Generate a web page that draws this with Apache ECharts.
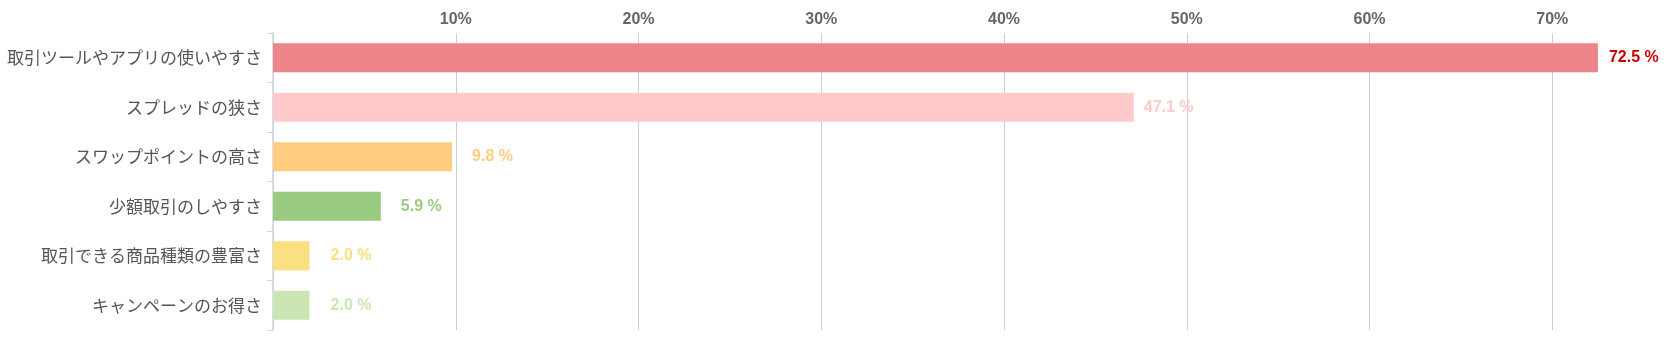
<!DOCTYPE html>
<html>
<head>
<meta charset="utf-8">
<script src="https://cdn.jsdelivr.net/npm/echarts@6/dist/echarts.min.js"></script>
<style>
html,body{margin:0;padding:0;background:#fff;}
#chart{width:1674px;height:349px;}
</style>
</head>
<body>
<div id="chart"></div>
<script>
const categories = ['取引ツールやアプリの使いやすさ','スプレッドの狭さ','スワップポイントの高さ','少額取引のしやすさ','取引できる商品種類の豊富さ','キャンペーンのお得さ'];
const values = [72.5, 47.1, 9.8, 5.9, 2.0, 2.0];
const barColors = ['#EE858B','#FFCACA','#FFCC80','#99CC80','#FAE080','#CCE6B3'];
const labelColors = ['#CC0000','#FFCACA','#FFCC80','#99CC80','#FAE080','#CCE6B3'];
const labelGaps = [11, 10, 20, 20, 21, 21];
const xTicks = [0, 10, 20, 30, 40, 50, 60, 70, 80];

const chart = echarts.init(document.getElementById('chart'));
chart.setOption({
  animation: false,
  grid: {left: 273, top: 33, width: 1462, height: 297, containLabel: false, outerBoundsMode: 'none'},
  xAxis: {
    type: 'value', position: 'top', min: xTicks[0], max: xTicks[xTicks.length-1], interval: 10,
    axisLine: {show: false}, axisTick: {show: false},
    axisLabel: {margin: 5, fontSize: 16, fontWeight: 'bold', color: '#666', fontFamily: 'Liberation Sans, Arial, sans-serif',
      formatter: v => v === 0 ? '' : v + '%'},
    splitLine: {show: true, lineStyle: {color: '#cfcfcf', width: 1}}
  },
  yAxis: {
    type: 'category', inverse: true, data: categories,
    axisLine: {show: true, lineStyle: {color: '#cbd5e0', width: 1.5}},
    axisTick: {show: true, length: 6, lineStyle: {color: '#cbd5e0'}},
    axisLabel: {margin: 11, fontSize: 17, color: '#555', fontFamily: 'Noto Sans CJK JP, sans-serif'}
  },
  series: [{
    type: 'bar', barWidth: 29,
    data: values.map((v, i) => ({
      value: v,
      itemStyle: {color: barColors[i]},
      label: {show: true, position: 'right', distance: labelGaps[i], color: labelColors[i],
        fontSize: 16, fontWeight: 'bold', fontFamily: 'Liberation Sans, Arial, sans-serif',
        formatter: p => p.value.toFixed(1) + ' %'}
    }))
  }]
});
</script>
</body>
</html>
